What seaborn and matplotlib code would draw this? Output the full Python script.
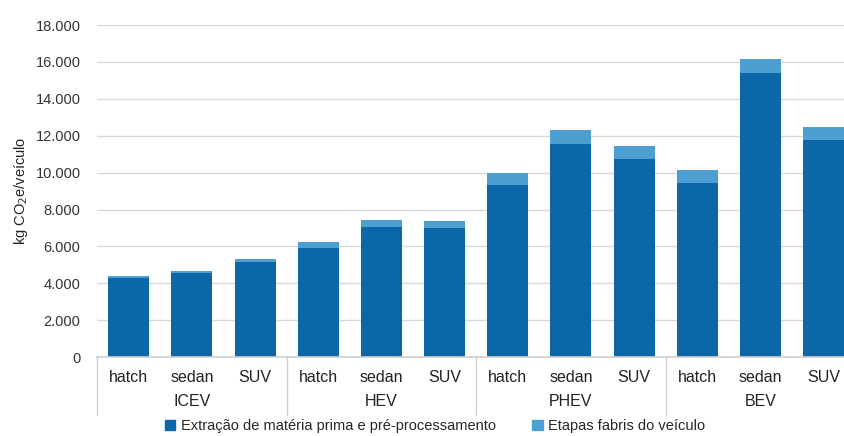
import numpy as np
import pandas as pd
import matplotlib
matplotlib.use("Agg")
import matplotlib.pyplot as plt
import matplotlib.transforms as mtransforms
from matplotlib.patches import Patch
import seaborn as sns

# dados (kg CO2e/veículo)
grupos = ["ICEV", "HEV", "PHEV", "BEV"]
tipos = ["hatch", "sedan", "SUV"]
extracao = [4300, 4540, 5135, 5890, 7070, 6980, 9330, 11540, 10720, 9420, 15420, 11770]
etapas_fabris = [110, 140, 165, 360, 360, 410, 665, 770, 720, 720, 720, 690]

cor_escura = "#0b67a8"
cor_clara = "#4d9ed1"

sns.set_theme(style="white")
plt.rcParams["font.family"] = ["Liberation Sans", "DejaVu Sans"]

rotulos = [f"{g} {t}" for g in grupos for t in tipos]
df = pd.DataFrame({"veiculo": rotulos, "extracao": extracao, "etapas": etapas_fabris})
df["total"] = df["extracao"] + df["etapas"]

fig = plt.figure(figsize=(8.45, 4.36), dpi=100)
ax = fig.add_axes([0.115, 0.181, 0.897, 0.7615])

sns.barplot(data=df, x="veiculo", y="total", color=cor_clara, saturation=1, width=0.65,
            linewidth=0, edgecolor="none", ax=ax)
sns.barplot(data=df, x="veiculo", y="extracao", color=cor_escura, saturation=1, width=0.65,
            linewidth=0, edgecolor="none", ax=ax)

ax.set_ylim(0, 18000)
ax.set_xlim(-0.5, len(rotulos) - 0.5)
ax.set_yticks(np.arange(0, 18001, 2000))
ax.set_yticklabels([f"{v:,}".replace(",", ".") for v in range(0, 18001, 2000)], fontsize=10.5, color="#333333")
ax.yaxis.grid(True, color="#d9d9d9", linewidth=1)
ax.set_axisbelow(True)
ax.tick_params(axis="y", length=0, pad=12)
for s in ["top", "right", "left"]:
    ax.spines[s].set_visible(False)
ax.spines["bottom"].set_color("#cfcfcf")

ax.set_xticks(range(len(rotulos)))
ax.set_xticklabels(tipos * len(grupos), fontsize=11.5, color="#222222")
ax.tick_params(axis="x", length=0, pad=9)
ax.set_xlabel("")
ax.set_ylabel("kg CO$_2$e/veículo", fontsize=10.5, color="#222222", labelpad=4)

trans = mtransforms.blended_transform_factory(ax.transData, ax.transAxes)
for i, g in enumerate(grupos):
    ax.text(i * 3 + 1, -0.135, g, transform=trans, ha="center", va="center", fontsize=11.5, color="#222222")
    ax.plot([i * 3 - 0.5, i * 3 - 0.5], [0, -0.175], transform=trans, color="#d0d0d0",
            linewidth=1, clip_on=False)

handles = [Patch(color=cor_escura, label="Extração de matéria prima e pré-processamento"),
           Patch(color=cor_clara, label="Etapas fabris do veículo")]
fig.legend(handles=handles, loc="center", bbox_to_anchor=(0.515, 0.022), ncol=2, frameon=False,
           fontsize=10.5, handlelength=0.7, handleheight=0.7, handletextpad=0.4, columnspacing=2.5)

fig.savefig("out.png", dpi=100)
